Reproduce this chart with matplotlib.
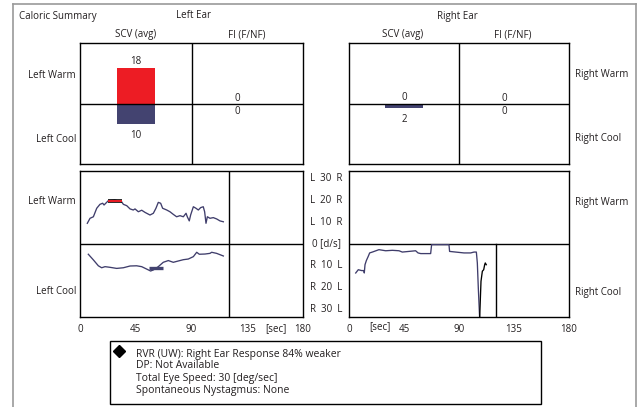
import matplotlib
matplotlib.use("Agg")
import matplotlib.pyplot as plt
from matplotlib.transforms import blended_transform_factory
from matplotlib.patches import Rectangle
from matplotlib.lines import Line2D

plt.rcParams['font.family'] = ['Open Sans', 'DejaVu Sans']

# ---------------- data ----------------
scv_left = {"warm": 18, "cool": 10}
scv_right = {"warm": 0, "cool": 2}
fi_left = {"warm": 0, "cool": 0}
fi_right = {"warm": 0, "cool": 0}

lw_t = [5.9, 8.1, 10.8, 13.5, 16.1, 18.3, 19.4, 21.5, 22.9, 28.0, 33.6, 35.0, 37.7, 40.4, 43.0,
        44.4, 47.1, 49.8, 52.5, 56.5, 59.2, 61.3, 63.2, 65.1, 66.7, 70.0, 72.6, 75.3, 78.0, 80.7,
        83.4, 85.6, 86.6, 88.2, 89.3, 91.5, 93.6, 95.5, 97.4, 99.5, 100.6, 101.7, 102.8, 104.9,
        107.6, 110.3, 113.0, 115.7]
lw_v = [9.5, 11.8, 12.5, 16.4, 18.2, 18.7, 17.9, 19.1, 19.9, 20.2, 19.4, 18.2, 17.6, 16.1, 15.6,
        16.1, 14.8, 15.5, 14.5, 13.3, 14.1, 16.4, 19.1, 18.7, 16.4, 15.6, 14.8, 13.6, 12.5, 13.0,
        12.5, 14.1, 12.5, 10.6, 13.3, 17.1, 16.4, 15.6, 16.7, 17.1, 14.8, 9.5, 12.5, 11.8,
        12.1, 11.5, 10.6, 10.2]

lc_t = [6.7, 10.8, 14.8, 17.5, 20.2, 24.2, 29.6, 35.0, 40.4, 45.7, 49.8, 53.8, 57.0, 59.2,
        63.2, 67.2, 71.3, 75.3, 79.3, 83.4, 87.4, 91.5, 94.2, 96.3, 100.9, 104.9, 106.3, 110.3, 115.7]
lc_v = [-4.7, -7.3, -10.0, -10.9, -10.4, -10.7, -11.2, -10.9, -10.1, -10.0, -10.4, -11.5, -12.4,
        -11.9, -10.4, -8.4, -7.6, -8.4, -7.8, -7.2, -6.9, -5.8, -3.8, -4.7, -4.6, -4.3, -3.8, -4.3, -5.5]

rc_t = [5.5, 7.6, 10.4, 12.3, 12.5, 13.1, 14.2, 15.8, 16.9, 19.1, 24.5, 30.0, 35.5, 40.9, 43.6,
        49.1, 54.5, 56.5, 58.7, 66.8, 67.6, 81.8, 82.3, 87.3, 94.1, 99.5, 102.3, 104.2, 105.0,
        105.8, 106.9]
rc_v = [-13.3, -11.8, -12.2, -12.2, -13.3, -9.5, -7.6, -5.6, -4.1, -3.7, -2.6, -3.1, -2.9, -3.1,
        -3.7, -3.4, -3.1, -4.1, -4.4, -4.4, -0.3, -0.3, -3.4, -3.7, -4.1, -4.1, -3.7, -3.7, -8.7,
        -20.2, -34.0]
rc_tail_t = [106.9, 108.0, 109.1, 110.2, 111.0, 111.5, 112.3]
rc_tail_v = [-34.0, -17.1, -12.5, -11.8, -9.5, -8.7, -9.5]

warm_win = (22.9, 33.6, 19.9)
cool_win = (55.7, 66.7, -10.9)
end_time = 120

x_ticks = [0, 45, 90, 135, 180]
y_tick_vals = [30, 20, 10, 0, -10, -20, -30]
y_tick_labels = ["L  30  R", "L  20  R", "L  10  R", "0 [d/s]", "R  10  L", "R  20  L", "R  30  L"]

info_lines = ["RVR (UW): Right Ear Response 84% weaker",
              "DP: Not Available",
              "Total Eye Speed: 30 [deg/sec]",
              "Spontaneous Nystagmus: None"]

# ---------------- layout ----------------
W, H = 637, 407
fig = plt.figure(figsize=(W / 100, H / 100), dpi=100)
TXT = '#231f20'
LINE = '#3f3d6b'
RED = '#ed1c24'
BLUE = '#434370'
FS = 7


def rect(x0, y0, x1, y1):
    return [x0 / W, 1 - y1 / H, (x1 - x0) / W, (y1 - y0) / H]


def ftext(x, y, s, ha='center', va='center', fs=FS, **kw):
    fig.text(x / W, 1 - y / H, s, ha=ha, va=va, fontsize=fs, color=TXT, **kw)


# outer gray frame
fig.add_artist(Line2D([13 / W, 13 / W], [0, 1 - 4 / H], transform=fig.transFigure, color='#9a9a9a', lw=1.2))
fig.add_artist(Line2D([13 / W, 635.5 / W], [1 - 4 / H, 1 - 4 / H], transform=fig.transFigure, color='#9a9a9a', lw=1.2))
fig.add_artist(Line2D([635.5 / W, 635.5 / W], [0, 1 - 4 / H], transform=fig.transFigure, color='#9a9a9a', lw=1.2))

ftext(19, 16, "Caloric Summary", ha='left')
ftext(193, 16, "Left Ear")
ftext(457, 16, "Right Ear")
ftext(136, 35, "SCV (avg)")
ftext(247, 35, "FI (F/NF)")
ftext(403, 35, "SCV (avg)")
ftext(513, 35, "FI (F/NF)")


def style(ax):
    for s in ax.spines.values():
        s.set_linewidth(1.0)
        s.set_color('black')
    ax.set_xticks([])
    ax.set_yticks([])


def summary(ax, scv, fi):
    ax.set_xlim(0, 2)
    ax.set_ylim(-30.25, 30.25)
    style(ax)
    ax.axvline(1, color='black', lw=1.0)
    ax.axhline(0, color='black', lw=1.0, zorder=3)
    ax.bar([0.5], [scv["warm"]], width=0.34, color=RED, zorder=2)
    ax.bar([0.5], [-scv["cool"]], width=0.34, color=BLUE, zorder=2)
    ax.annotate(str(scv["warm"]), (0.5, scv["warm"]), xytext=(0, 4.5), textcoords='offset points',
                ha='center', va='center', fontsize=FS, color=TXT)
    ax.annotate(str(scv["cool"]), (0.5, -scv["cool"]), xytext=(0, -8.5), textcoords='offset points',
                ha='center', va='center', fontsize=FS, color=TXT)
    ax.annotate(str(fi["warm"]), (1.41, 0), xytext=(0, 3.8), textcoords='offset points',
                ha='center', va='center', fontsize=FS, color=TXT)
    ax.annotate(str(fi["cool"]), (1.41, 0), xytext=(0, -5.8), textcoords='offset points',
                ha='center', va='center', fontsize=FS, color=TXT)


axL = fig.add_axes(rect(80, 43, 303, 164))
summary(axL, scv_left, fi_left)
axR = fig.add_axes(rect(349, 43, 569, 164))
summary(axR, scv_right, fi_right)

ftext(76, 75, "Left Warm", ha='right')
ftext(76, 139, "Left Cool", ha='right')
ftext(575, 74, "Right Warm", ha='left')
ftext(575, 139, "Right Cool", ha='left')

# traces
YL = 33.5


def trace_ax(x0, x1):
    ax = fig.add_axes(rect(x0, 171, x1, 317))
    ax.set_xlim(0, 180)
    ax.set_ylim(-YL, YL)
    style(ax)
    ax.axhline(0, color='black', lw=1.0)
    tr = blended_transform_factory(ax.transData, fig.transFigure)
    for t in x_ticks:
        ax.text(t, 1 - 329 / H, str(t), transform=tr, ha='center', va='center', fontsize=FS, color=TXT)
    return ax, tr


axLt, trL = trace_ax(80, 303)
axLt.axvline(end_time, color='black', lw=1.0)
axLt.plot(lw_t, lw_v, color=LINE, lw=0.95)
axLt.plot(lc_t, lc_v, color=LINE, lw=0.95)
axLt.plot([warm_win[0], warm_win[1]], [warm_win[2]] * 2, color='black', lw=2.6, solid_capstyle='butt')
axLt.plot([warm_win[0], warm_win[1]], [warm_win[2]] * 2, color=RED, lw=1.4, solid_capstyle='butt')
axLt.plot([cool_win[0], cool_win[1]], [cool_win[2]] * 2, color=BLUE, lw=2.4, solid_capstyle='butt')
axLt.text(158, 1 - 329 / H, "[sec]", transform=trL, ha='center', va='center', fontsize=FS, color=TXT)

axRt, trR = trace_ax(349, 569)
axRt.plot([end_time, end_time], [-YL, 0], color='black', lw=1.0)
axRt.plot(rc_t, rc_v, color=LINE, lw=0.95)
axRt.plot(rc_tail_t, rc_tail_v, color='black', lw=0.95)
axRt.text(25.4, 1 - 327 / H, "[sec]", transform=trR, ha='center', va='center', fontsize=FS, color=TXT)

ytr = blended_transform_factory(fig.transFigure, axLt.transData)
for v, lab in zip(y_tick_vals, y_tick_labels):
    fig.text(326 / W, v, lab, transform=ytr, ha='center', va='center', fontsize=FS, color=TXT)

ftext(76, 202, "Left Warm", ha='right')
ftext(76, 292, "Left Cool", ha='right')
ftext(575, 202, "Right Warm", ha='left')
ftext(575, 292, "Right Cool", ha='left')

# info box
fig.add_artist(Rectangle((110 / W, 1 - 404 / H), (541 - 110) / W, (404 - 341) / H,
                         transform=fig.transFigure, fill=False, edgecolor='black', lw=1.0))
fig.add_artist(Line2D([119 / W], [1 - 351 / H], transform=fig.transFigure, marker='D',
                      markersize=6, color='black', linestyle='none'))
for i, s in enumerate(info_lines):
    ftext(136, 354 + i * 12, s, ha='left', fs=7.5)

fig.savefig("out.png", dpi=100)
